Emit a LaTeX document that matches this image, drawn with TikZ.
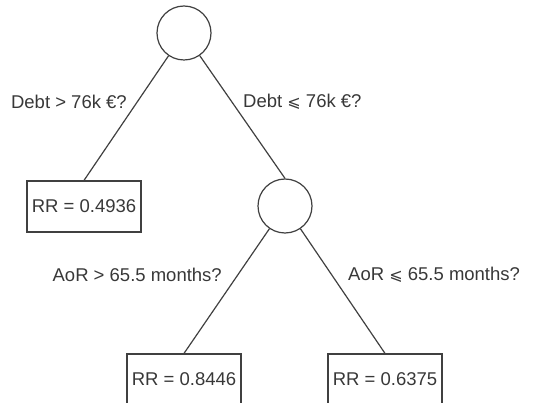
\documentclass[tikz,border=0pt]{standalone}
\usepackage{fontspec}
\setmainfont{Liberation Sans}
\newfontfamily\symfnt{DejaVu Sans}
\newcommand{\leqsl}{{\symfnt\fontsize{16}{20}\selectfont ⩽}}
\begin{document}
\begin{tikzpicture}[x=1pt,y=-1pt,
  every node/.style={font=\fontsize{18.5}{22}\selectfont, text=black!78},
  split/.style={circle, draw=black!75, line width=1.2pt, minimum size=54pt, inner sep=0pt},
  leaf/.style={rectangle, draw=black!75, line width=1.2pt, minimum width=114pt, minimum height=51pt, inner sep=0pt},
  cond/.style={inner sep=0pt},
  edge/.style={draw=black!75, line width=1.2pt}]
\useasboundingbox (0,0) rectangle (541,403);
\clip (0,0) rectangle (541,403);
\node[split] (root) at (184,33) {};
\node[leaf] (l1) at (84,206.5) {RR = 0.4936};
\node[split] (c2) at (285,206) {};
\node[leaf] (l2) at (184,379.5) {RR = 0.8446};
\node[leaf] (l3) at (385,379.5) {RR = 0.6375};
\draw[edge] (root) -- (l1.north);
\draw[edge] (root) -- (c2.north);
\draw[edge] (c2) -- (l2.north);
\draw[edge] (c2) -- (l3.north);
\node[cond, anchor=east] (q1) at (127,102) {Debt > 76k €?};
\node[cond, anchor=west] (q2) at (243,102) {Debt \leqsl{} 76k €?};
\node[cond, anchor=east] (q3) at (222,275) {AoR > 65.5 months?};
\node[cond, anchor=west] (q4) at (348,275) {AoR \leqsl{} 65.5 months?};
\end{tikzpicture}
\end{document}
